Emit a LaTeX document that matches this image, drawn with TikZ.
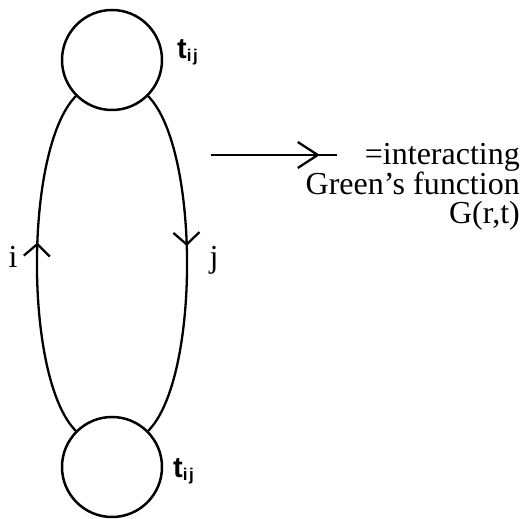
\documentclass[tikz,border=0pt]{standalone}
\usepackage{fontspec}
\setmainfont{Liberation Serif}
\setsansfont{Liberation Sans}
\usetikzlibrary{arrows.meta,decorations.markings}
\begin{document}
\begin{tikzpicture}[x=1pt,y=1pt,
  vertex/.style={circle,draw,line width=2.5pt,minimum size=100pt,inner sep=0pt},
  prop/.style={line width=2.3pt},
  midarrow/.style={postaction={decorate},decoration={markings,
     mark=at position #1 with {\arrow[line width=2.3pt]{Straight Barb[length=12pt,width=26pt]}}}},
  lbl/.style={font=\fontsize{32}{32}\selectfont,inner sep=0pt},
  tlbl/.style={font=\sffamily\bfseries\fontsize{29}{29}\selectfont,inner sep=0pt,anchor=base west}
]
\useasboundingbox (0,0) rectangle (520,519);
\node[vertex] (top) at (112,459) {};
\node[vertex] (bot) at (112,52) {};
\draw[prop,midarrow=0.56] (bot.135) .. controls (24,140) and (24,370) .. (top.225);
\draw[prop,midarrow=0.45] (top.315) .. controls (200,370) and (200,140) .. (bot.45);
\node[tlbl] (t1) at (177,460) {t\raisebox{-3pt}{\fontsize{17}{17}\selectfont i\kern1.5pt j}};
\node[tlbl] (t2) at (173,41) {t\raisebox{-3pt}{\fontsize{17}{17}\selectfont i\kern1.5pt j}};
\node[lbl,anchor=base] (li) at (13,251) {i};
\node[lbl,anchor=base] (lj) at (214,251) {j};
\coordinate (ha) at (211,364);
\coordinate (hb) at (337,364);
\draw[prop,postaction={decorate},decoration={markings,
  mark=at position 0.864 with {\arrow[line width=2.3pt]{Straight Barb[length=20pt,width=26pt]}}}] (ha) -- (hb);
\node[lbl,anchor=base east] (g1) at (520,354) {=interacting};
\node[lbl,anchor=base east] (g2) at (520,324) {Green’s function};
\node[lbl,anchor=base east] (g3) at (520,295) {G(r,t)};
\end{tikzpicture}
\end{document}
